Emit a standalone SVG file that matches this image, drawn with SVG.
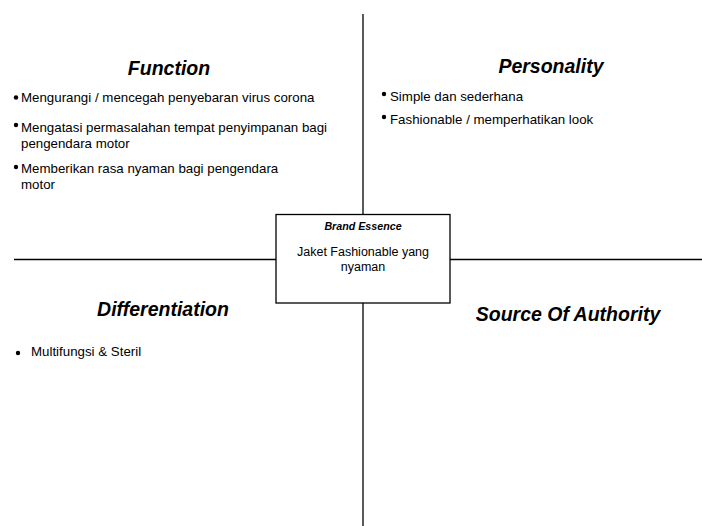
<svg xmlns="http://www.w3.org/2000/svg" width="702" height="526" viewBox="0 0 702 526">
<style>
.h{font-family:"Liberation Sans",Arial,sans-serif;font-weight:bold;font-style:italic;font-size:19.5px;fill:#000;text-anchor:middle}
.t{font-family:"Liberation Sans",Arial,sans-serif;font-size:13.3px;fill:#000}
.ln{stroke:#000;stroke-width:1.3;fill:none}
</style>
<rect width="702" height="526" fill="#fff"/>
<g id="connectors">
<line class="ln" x1="363" y1="14" x2="363" y2="214"/>
<line class="ln" x1="363" y1="303" x2="363" y2="526"/>
<line class="ln" x1="14" y1="259.5" x2="276" y2="259.5"/>
<line class="ln" x1="450" y1="259.5" x2="702" y2="259.5"/>
</g>
<g id="function">
<text class="h" x="169" y="75">Function</text>
<circle cx="16" cy="97.5" r="2.2"/>
<text class="t" x="21" y="102">Mengurangi / mencegah penyebaran virus corona</text>
<circle cx="16" cy="125" r="2.2"/>
<text class="t" x="21" y="132">Mengatasi permasalahan tempat penyimpanan bagi</text>
<text class="t" x="21" y="148">pengendara motor</text>
<circle cx="16" cy="167" r="2.2"/>
<text class="t" x="21" y="173">Memberikan rasa nyaman bagi pengendara</text>
<text class="t" x="21" y="189">motor</text>
</g>
<g id="personality">
<text class="h" x="551" y="73">Personality</text>
<circle cx="384" cy="94" r="2.2"/>
<text class="t" x="390" y="101">Simple dan sederhana</text>
<circle cx="384" cy="117" r="2.2"/>
<text class="t" x="390" y="124">Fashionable / memperhatikan look</text>
</g>
<g id="brand-essence">
<rect x="276" y="214.5" width="174" height="88.5" fill="#fff" stroke="#000" stroke-width="1.3"/>
<text x="363" y="230" font-family="Liberation Sans,Arial,sans-serif" font-weight="bold" font-style="italic" font-size="10.7" text-anchor="middle">Brand Essence</text>
<text x="363" y="256" font-family="Liberation Sans,Arial,sans-serif" font-size="12.5" text-anchor="middle">Jaket Fashionable yang</text>
<text x="363" y="271" font-family="Liberation Sans,Arial,sans-serif" font-size="12.5" text-anchor="middle">nyaman</text>
</g>
<g id="differentiation">
<text class="h" x="163" y="316">Differentiation</text>
<circle cx="18" cy="353" r="2.2"/>
<text class="t" x="31" y="356">Multifungsi &amp; Steril</text>
</g>
<g id="source-of-authority">
<text class="h" x="568" y="321">Source Of Authority</text>
</g>
</svg>
